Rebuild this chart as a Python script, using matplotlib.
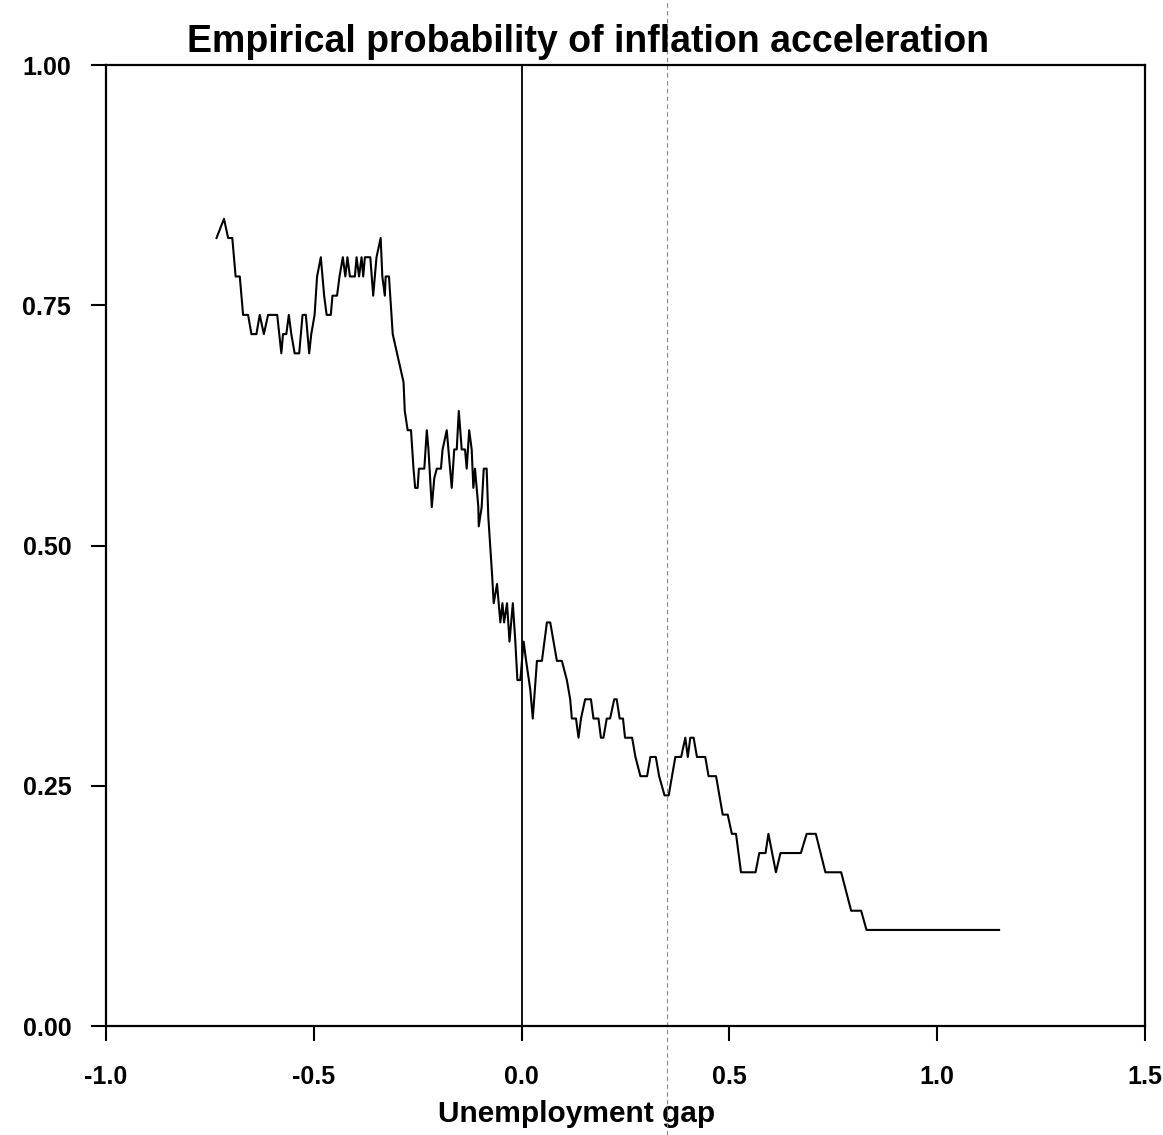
import matplotlib
matplotlib.use("Agg")
import matplotlib.pyplot as plt

# unemployment gap (x) and empirical probability of inflation acceleration (y)
gap = [-0.734, -0.716, -0.706, -0.696, -0.688, -0.678, -0.670, -0.658, -0.650, -0.638,
       -0.630, -0.620, -0.610, -0.588, -0.578, -0.574, -0.566, -0.560, -0.554, -0.546,
       -0.535, -0.527, -0.519, -0.511, -0.506, -0.498, -0.492, -0.483, -0.479, -0.475,
       -0.469, -0.459, -0.455, -0.444, -0.438, -0.430, -0.424, -0.419, -0.413, -0.401,
       -0.397, -0.391, -0.385, -0.381, -0.377, -0.364, -0.357, -0.349, -0.339, -0.335,
       -0.329, -0.327, -0.319, -0.310, -0.284, -0.281, -0.274, -0.266, -0.260, -0.256,
       -0.250, -0.247, -0.234, -0.228, -0.224, -0.216, -0.210, -0.204, -0.194, -0.190,
       -0.180, -0.176, -0.168, -0.162, -0.156, -0.151, -0.144, -0.136, -0.132, -0.126,
       -0.120, -0.116, -0.112, -0.104, -0.103, -0.096, -0.091, -0.084, -0.080, -0.071,
       -0.067, -0.059, -0.051, -0.046, -0.042, -0.035, -0.029, -0.021, -0.015, -0.010,
       -0.003, 0.001, 0.005, 0.011, 0.021, 0.027, 0.037, 0.049, 0.061, 0.069,
       0.077, 0.085, 0.097, 0.109, 0.117, 0.121, 0.131, 0.137, 0.143, 0.153,
       0.167, 0.173, 0.185, 0.191, 0.197, 0.205, 0.213, 0.223, 0.229, 0.236,
       0.244, 0.249, 0.266, 0.274, 0.286, 0.302, 0.310, 0.323, 0.331, 0.344,
       0.354, 0.362, 0.370, 0.384, 0.394, 0.400, 0.406, 0.414, 0.422, 0.442,
       0.450, 0.468, 0.484, 0.496, 0.506, 0.516, 0.528, 0.563, 0.572, 0.587,
       0.594, 0.612, 0.623, 0.672, 0.686, 0.708, 0.731, 0.769, 0.793, 0.817,
       0.830, 1.149]
prob = [0.82, 0.84, 0.82, 0.82, 0.78, 0.78, 0.74, 0.74, 0.72, 0.72,
        0.74, 0.72, 0.74, 0.74, 0.70, 0.72, 0.72, 0.74, 0.72, 0.70,
        0.70, 0.74, 0.74, 0.70, 0.72, 0.74, 0.78, 0.80, 0.78, 0.76,
        0.74, 0.74, 0.76, 0.76, 0.78, 0.80, 0.78, 0.80, 0.78, 0.78,
        0.80, 0.78, 0.80, 0.78, 0.80, 0.80, 0.76, 0.80, 0.82, 0.78,
        0.76, 0.78, 0.78, 0.72, 0.67, 0.64, 0.62, 0.62, 0.58, 0.56,
        0.56, 0.58, 0.58, 0.62, 0.60, 0.54, 0.57, 0.58, 0.58, 0.60,
        0.62, 0.60, 0.56, 0.60, 0.60, 0.64, 0.60, 0.60, 0.58, 0.62,
        0.60, 0.56, 0.58, 0.54, 0.52, 0.54, 0.58, 0.58, 0.53, 0.47,
        0.44, 0.46, 0.42, 0.44, 0.42, 0.44, 0.40, 0.44, 0.40, 0.36,
        0.36, 0.38, 0.40, 0.38, 0.35, 0.32, 0.38, 0.38, 0.42, 0.42,
        0.40, 0.38, 0.38, 0.36, 0.34, 0.32, 0.32, 0.30, 0.32, 0.34,
        0.34, 0.32, 0.32, 0.30, 0.30, 0.32, 0.32, 0.34, 0.34, 0.32,
        0.32, 0.30, 0.30, 0.28, 0.26, 0.26, 0.28, 0.28, 0.26, 0.24,
        0.24, 0.26, 0.28, 0.28, 0.30, 0.28, 0.30, 0.30, 0.28, 0.28,
        0.26, 0.26, 0.22, 0.22, 0.20, 0.20, 0.16, 0.16, 0.18, 0.18,
        0.20, 0.16, 0.18, 0.18, 0.20, 0.20, 0.16, 0.16, 0.12, 0.12,
        0.10, 0.10]

xticks = [-1.0, -0.5, 0.0, 0.5, 1.0, 1.5]
yticks = [0.00, 0.25, 0.50, 0.75, 1.00]

plt.rcParams["font.family"] = ["Liberation Sans", "DejaVu Sans"]
plt.rcParams["font.weight"] = "bold"

fig = plt.figure(figsize=(11.63, 11.35), dpi=100)
ax = fig.add_axes([0.0911, 0.096, 0.8934, 0.8467])

ax.plot(gap, prob, color="black", lw=1.5)
ax.axvline(0.0, color="black", lw=1.3)
# faint dashed fold line seen in the scan
ax.axvline(0.35, ymin=-0.113, ymax=1.068, clip_on=False,
           color="#888888", lw=0.8, ls=(0, (4, 3)))

ax.set_xlim(-1.0, 1.5)
ax.set_ylim(0.0, 1.0)
ax.set_xticks(xticks)
ax.set_xticklabels([f"{t:.1f}" for t in xticks])
ax.set_yticks(yticks)
ax.set_yticklabels([f"{t:.2f}" for t in yticks])
ax.tick_params(axis="x", direction="out", length=11, width=1.5, pad=17, labelsize=18)
ax.tick_params(axis="y", direction="out", length=11, width=1.5, pad=14, labelsize=18)
for s in ax.spines.values():
    s.set_linewidth(1.6)

ax.set_xlabel("Unemployment gap", fontsize=21.5, fontweight="bold")
ax.xaxis.set_label_coords(0.453, -0.077)
fig.text(0.5056, 0.963, "Empirical probability of inflation acceleration",
         ha="center", va="center", fontsize=27, fontweight="bold")

fig.savefig("out.png", dpi=100)
